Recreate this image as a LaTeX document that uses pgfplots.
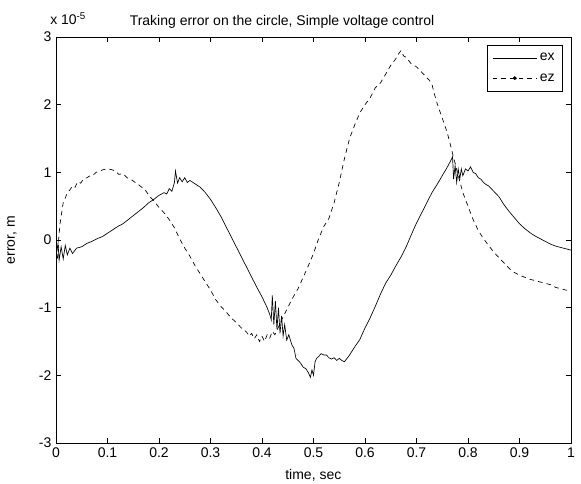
\documentclass[border=0pt]{standalone}
\usepackage{fontspec}
\setmainfont{Liberation Sans}
\usepackage{pgfplots}
\pgfplotsset{compat=1.18}
\begin{document}
\begin{tikzpicture}
\path[use as bounding box] (-42pt,-30.75pt) rectangle (393.75pt,332.25pt);
\begin{axis}[
  at={(0,0)}, anchor=south west,
  scale only axis, width=386.25pt, height=304.5pt,
  xmin=0, xmax=1, ymin=-3, ymax=3,
  xtick={0,0.1,...,1}, ytick={-3,-2,...,3},
  xticklabels={0,0.1,0.2,0.3,0.4,0.5,0.6,0.7,0.8,0.9,1},
  tick align=inside, major tick length=3.75pt,
  /pgf/number format/assume math mode=true,
  tick label style={font=\fontsize{10.5}{12}\selectfont},
  axis line style={line width=0.6pt},
  every tick/.style={black, line width=0.5pt},
  legend style={at={(1,1)}, anchor=north east, xshift=-6pt, yshift=-6pt,
    draw=black, line width=0.7pt, font=\fontsize{10.5}{12}\selectfont,
    inner xsep=4pt, inner ysep=4pt, row sep=4pt, cells={anchor=west}},
  legend cell align=left,
  legend image code/.code={\draw[#1] (0pt,0pt) -- (33pt,0pt);},
]
\addplot[black, line width=0.5pt] coordinates {
(0.000,-0.25)(0.004,-0.05)(0.006,-0.30)(0.010,-0.10)(0.014,-0.28)(0.018,-0.08)
(0.022,-0.22)(0.027,-0.12)(0.032,-0.20)(0.040,-0.12)(0.050,-0.10)(0.060,-0.05)
(0.070,-0.02)(0.080,0.02)(0.090,0.05)(0.100,0.10)(0.110,0.15)(0.120,0.20)
(0.130,0.24)(0.140,0.30)(0.150,0.36)(0.160,0.42)(0.170,0.48)(0.180,0.55)
(0.190,0.60)(0.200,0.66)(0.210,0.70)(0.215,0.68)(0.220,0.76)(0.225,0.72)
(0.230,0.85)(0.232,1.02)(0.236,0.84)(0.240,0.92)(0.245,0.86)(0.250,0.92)
(0.255,0.85)(0.260,0.88)(0.270,0.83)(0.280,0.78)(0.290,0.70)(0.300,0.60)
(0.310,0.48)(0.320,0.35)(0.330,0.20)(0.340,0.05)(0.350,-0.10)(0.360,-0.25)
(0.370,-0.40)(0.380,-0.55)(0.390,-0.70)(0.400,-0.84)(0.410,-1.00)(0.415,-1.10)
(0.418,-1.18)(0.420,-0.82)(0.423,-1.25)(0.426,-0.90)(0.429,-1.32)(0.432,-1.00)
(0.435,-1.38)(0.438,-1.12)(0.441,-1.42)(0.444,-1.25)(0.448,-1.48)(0.452,-1.40)
(0.458,-1.55)(0.462,-1.60)(0.466,-1.75)(0.470,-1.78)(0.475,-1.82)(0.480,-1.88)
(0.485,-1.90)(0.490,-1.96)(0.494,-2.03)(0.497,-1.92)(0.500,-2.00)(0.503,-1.80)
(0.506,-1.75)(0.510,-1.72)(0.515,-1.68)(0.520,-1.70)(0.525,-1.70)(0.530,-1.74)
(0.535,-1.76)(0.540,-1.74)(0.545,-1.78)(0.550,-1.75)(0.555,-1.78)(0.560,-1.80)
(0.570,-1.70)(0.580,-1.58)(0.590,-1.47)(0.600,-1.30)(0.610,-1.15)(0.620,-0.98)
(0.630,-0.80)(0.640,-0.64)(0.650,-0.52)(0.660,-0.38)(0.670,-0.25)(0.680,-0.10)
(0.690,0.08)(0.700,0.25)(0.710,0.40)(0.720,0.55)(0.730,0.70)(0.740,0.82)
(0.750,0.95)(0.760,1.08)(0.767,1.18)(0.770,1.23)(0.772,0.90)(0.775,1.10)
(0.778,0.85)(0.781,1.05)(0.784,0.90)(0.787,1.05)(0.790,0.95)(0.795,1.05)
(0.800,1.02)(0.805,1.08)(0.810,1.00)(0.815,0.98)(0.820,0.92)(0.825,0.90)
(0.830,0.85)(0.835,0.82)(0.840,0.80)(0.845,0.76)(0.850,0.72)(0.860,0.64)
(0.870,0.52)(0.880,0.42)(0.890,0.33)(0.900,0.24)(0.910,0.17)(0.920,0.11)
(0.930,0.06)(0.940,0.02)(0.950,-0.02)(0.960,-0.06)(0.970,-0.09)(0.980,-0.11)
(0.990,-0.13)(1.000,-0.15)
};
\addlegendentry{ex}
\addplot[black, line width=0.5pt, dash pattern=on 3.5pt off 3pt,
  legend image code/.code={\draw[black, line width=0.5pt, dash pattern=on 3.5pt off 3pt] (0pt,0pt) -- (33pt,0pt); \fill[black] (16.5pt,0pt) circle (1.3pt);}] coordinates {
(0.000,-0.20)(0.003,-0.30)(0.005,0.00)(0.008,0.25)(0.011,0.40)(0.014,0.55)
(0.018,0.62)(0.022,0.70)(0.027,0.74)(0.032,0.80)(0.037,0.78)(0.042,0.86)
(0.048,0.84)(0.053,0.90)(0.060,0.92)(0.066,0.95)(0.072,0.96)(0.078,1.00)
(0.085,1.02)(0.092,1.04)(0.100,1.05)(0.108,1.04)(0.115,1.02)(0.122,0.97)
(0.130,0.98)(0.138,0.92)(0.145,0.90)(0.152,0.86)(0.160,0.82)(0.168,0.77)
(0.175,0.72)(0.182,0.64)(0.190,0.58)(0.200,0.48)(0.210,0.40)(0.220,0.30)
(0.230,0.18)(0.240,0.02)(0.250,-0.12)(0.260,-0.24)(0.270,-0.38)(0.280,-0.50)
(0.290,-0.62)(0.300,-0.74)(0.310,-0.88)(0.320,-0.98)(0.330,-1.06)(0.340,-1.15)
(0.350,-1.22)(0.360,-1.30)(0.370,-1.36)(0.375,-1.42)(0.380,-1.38)(0.385,-1.46)
(0.390,-1.40)(0.395,-1.50)(0.400,-1.42)(0.405,-1.50)(0.410,-1.40)(0.415,-1.45)
(0.420,-1.35)(0.425,-1.40)(0.430,-1.32)(0.440,-1.15)(0.450,-1.00)(0.460,-0.85)
(0.470,-0.72)(0.480,-0.55)(0.490,-0.38)(0.500,-0.20)(0.510,0.02)(0.520,0.20)
(0.530,0.32)(0.540,0.55)(0.550,0.85)(0.560,1.20)(0.570,1.50)(0.580,1.70)
(0.590,1.88)(0.600,2.00)(0.610,2.10)(0.620,2.25)(0.630,2.32)(0.640,2.45)
(0.650,2.58)(0.660,2.68)(0.665,2.75)(0.670,2.80)(0.675,2.72)(0.680,2.70)
(0.690,2.60)(0.700,2.56)(0.710,2.48)(0.720,2.40)(0.725,2.36)(0.730,2.30)
(0.735,2.15)(0.740,2.02)(0.750,1.80)(0.760,1.58)(0.770,1.28)(0.780,0.98)
(0.790,0.70)(0.800,0.50)(0.810,0.30)(0.820,0.14)(0.830,0.02)(0.840,-0.08)
(0.850,-0.18)(0.860,-0.26)(0.870,-0.34)(0.880,-0.42)(0.890,-0.48)(0.900,-0.52)
(0.910,-0.55)(0.920,-0.58)(0.930,-0.60)(0.940,-0.62)(0.950,-0.64)(0.960,-0.66)
(0.970,-0.70)(0.980,-0.72)(0.990,-0.74)(1.000,-0.75)
};
\addlegendentry{ez}
\end{axis}
\node[font=\fontsize{10.5}{12}\selectfont, anchor=base] at (169.5pt,313pt) {Traking error on the circle, Simple voltage control};
\node[font=\fontsize{10.5}{12}\selectfont, anchor=base west, inner sep=0pt] at (-4.5pt,313.5pt) {x 10\textsuperscript{-5}};
\node[font=\fontsize{10.5}{12}\selectfont] at (193pt,-24pt) {time, sec};
\node[font=\fontsize{10.5}{12}\selectfont, rotate=90] at (-33pt,152pt) {error, m};
\end{tikzpicture}
\end{document}
